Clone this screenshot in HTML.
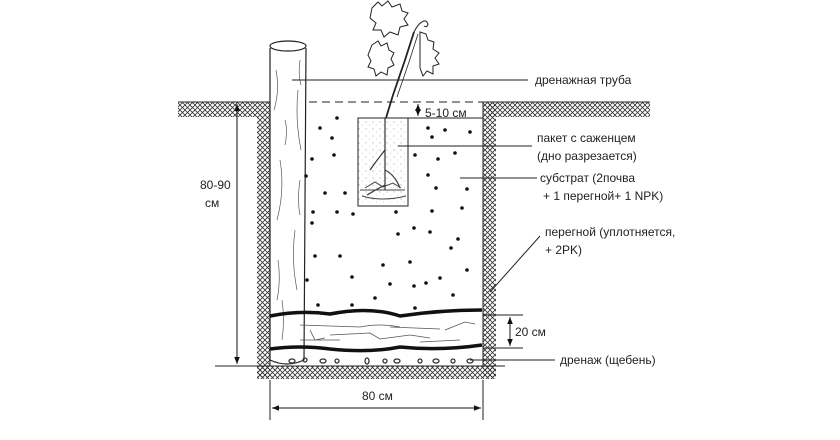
<!DOCTYPE html>
<html><head><meta charset="utf-8"><style>
html,body{margin:0;padding:0;background:#fff;}
svg{display:block;}
text{font-family:"Liberation Sans",sans-serif;font-size:12px;fill:#222;}
</style></head><body>
<svg width="840" height="440" viewBox="0 0 840 440" xmlns="http://www.w3.org/2000/svg">
<defs>
<pattern id="h" width="5" height="5" patternUnits="userSpaceOnUse">
<path d="M0,0 L5,5 M5,0 L0,5" stroke="#333" stroke-width="0.8"/>
</pattern>
<pattern id="s" width="7" height="7" patternUnits="userSpaceOnUse">
<circle cx="2" cy="3" r="0.5" fill="#777"/><circle cx="5.5" cy="6" r="0.4" fill="#999"/>
</pattern>
<marker id="a" viewBox="0 0 10 10" refX="10" refY="5" markerWidth="7" markerHeight="7" orient="auto-start-reverse"><path d="M0,1 L10,5 L0,9 z" fill="#111"/></marker>
</defs>
<rect x="178" y="102" width="80" height="15" fill="url(#h)"/>
<rect x="488" y="102" width="162" height="15" fill="url(#h)"/>
<rect x="257" y="102" width="13" height="276" fill="url(#h)"/>
<rect x="483" y="102" width="13" height="276" fill="url(#h)"/>
<rect x="257" y="366" width="239" height="13" fill="url(#h)"/>
<line x1="178" y1="102" x2="270" y2="102" stroke="#222"/>
<line x1="483" y1="102" x2="650" y2="102" stroke="#222"/>
<line x1="270" y1="102" x2="483" y2="102" stroke="#222" stroke-dasharray="8,5"/>
<line x1="270" y1="102" x2="270" y2="366" stroke="#222"/>
<line x1="483" y1="102" x2="483" y2="366" stroke="#222"/>
<line x1="215" y1="366" x2="505" y2="366" stroke="#222"/>
<!-- pipe -->
<path d="M270,48 L270,360 Q287,368 304,360 L306,48" fill="#fff" stroke="#222" stroke-width="1.2"/>
<ellipse cx="288" cy="46" rx="18" ry="5" fill="#fff" stroke="#222" stroke-width="1.2"/>
<path d="M276,70 q4,20 -2,40 M298,90 q-3,30 3,60 M280,160 q5,30 -3,60 M295,230 q-4,30 2,60 M278,260 q3,20 -1,40 M300,60 q-2,15 1,25 M285,120 q3,10 0,25 M300,180 q-3,20 0,35 M282,300 q3,20 0,40" stroke="#555" stroke-width="0.7" fill="none"/>
<!-- seedling -->
<path d="M414,32 L405,60 L393,95 L386,118" stroke="#222" stroke-width="1.8" fill="none"/>
<path d="M418,34 L409,62 L397,97" stroke="#222" stroke-width="0.8" fill="none"/>
<path d="M385,118 L385,190 M385,150 q-8,10 -15,20 M385,170 q10,5 15,18 M385,185 q-10,5 -18,10" stroke="#333" stroke-width="1.2" fill="none"/>
<g stroke="#222" fill="#fff" stroke-width="1">
<path d="M372,8 l6,-6 l4,4 l6,-5 l4,6 l8,-3 l2,7 l6,2 l-4,6 l4,6 l-8,2 l-2,8 l-8,-3 l-6,5 l-3,-7 l-8,0 l3,-7 l-6,-5z"/>
<path d="M372,45 l6,-4 l3,5 l6,-3 l2,7 l5,3 l-3,6 l3,6 l-6,3 l-1,7 l-6,-3 l-5,4 l-2,-7 l-6,-2 l3,-6 l-3,-6z"/>
<path d="M420,32 l6,2 l2,6 l6,2 l-1,7 l6,4 l-4,5 l4,6 l-6,2 l0,8 l-6,-3 l-4,5 l-3,-8 z"/>
<path d="M414,32 q4,-8 8,-10 q4,-3 6,2 q-1,4 -4,2"/>
</g>
<!-- bag -->
<rect x="358" y="118" width="50" height="88" fill="url(#s)" stroke="#222"/>
<line x1="408" y1="118" x2="483" y2="118" stroke="#222"/>
<path d="M360,190 l45,0 M362,196 q20,6 44,0 M365,188 l10,-6 l8,5 l10,-4 l8,5" stroke="#444" fill="none"/>
<line x1="418" y1="104" x2="418" y2="116" stroke="#111" marker-start="url(#a)" marker-end="url(#a)"/>
<text x="425" y="117">5-10 см</text>
<g fill="#111">
<circle cx="320" cy="128" r="1.8"/><circle cx="337" cy="118" r="1.8"/><circle cx="332" cy="138" r="1.8"/><circle cx="312" cy="159" r="1.8"/><circle cx="334" cy="155" r="1.8"/><circle cx="306" cy="176" r="1.8"/><circle cx="325" cy="193" r="1.8"/><circle cx="345" cy="193" r="1.8"/><circle cx="313" cy="212" r="1.8"/><circle cx="312" cy="223" r="1.8"/><circle cx="337" cy="212" r="1.8"/><circle cx="353" cy="214" r="1.8"/><circle cx="315" cy="256" r="1.8"/><circle cx="340" cy="256" r="1.8"/><circle cx="307" cy="280" r="1.8"/><circle cx="352" cy="277" r="1.8"/><circle cx="318" cy="305" r="1.8"/><circle cx="352" cy="305" r="1.8"/><circle cx="383" cy="265" r="1.8"/><circle cx="398" cy="234" r="1.8"/><circle cx="414" cy="228" r="1.8"/><circle cx="430" cy="232" r="1.8"/><circle cx="410" cy="262" r="1.8"/><circle cx="390" cy="284" r="1.8"/><circle cx="414" cy="286" r="1.8"/><circle cx="440" cy="278" r="1.8"/><circle cx="426" cy="283" r="1.8"/><circle cx="458" cy="239" r="1.8"/><circle cx="451" cy="248" r="1.8"/><circle cx="467" cy="270" r="1.8"/><circle cx="453" cy="295" r="1.8"/><circle cx="415" cy="308" r="1.8"/><circle cx="375" cy="298" r="1.8"/><circle cx="428" cy="128" r="1.8"/><circle cx="445" cy="130" r="1.8"/><circle cx="432" cy="137" r="1.8"/><circle cx="470" cy="132" r="1.8"/><circle cx="415" cy="155" r="1.8"/><circle cx="438" cy="159" r="1.8"/><circle cx="455" cy="153" r="1.8"/><circle cx="428" cy="175" r="1.8"/><circle cx="436" cy="188" r="1.8"/><circle cx="467" cy="189" r="1.8"/><circle cx="432" cy="211" r="1.8"/><circle cx="462" cy="208" r="1.8"/><circle cx="396" cy="212" r="1.8"/>
</g>
<path d="M270,316 q30,-6 60,-2 q40,-8 70,2 q40,-6 82,-6" stroke="#111" stroke-width="3.5" fill="none"/>
<path d="M270,349 q30,-4 60,0 q40,4 70,-2 q40,4 82,-2" stroke="#111" stroke-width="3.5" fill="none"/>
<path d="M300,325 l60,2 q20,-4 40,0 M330,335 l40,-2 l10,6 l30,-4 l20,3 M390,327 l50,2 M300,340 l40,0 M420,342 l40,-2 M310,330 l5,10 l10,-2 M445,330 l20,-8 l10,2" stroke="#555" stroke-width="0.8" fill="none"/>
<g fill="none" stroke="#333" stroke-width="1.3">
<ellipse cx="292" cy="361" rx="3" ry="2"/><ellipse cx="305" cy="360" rx="2" ry="2"/><ellipse cx="323" cy="361" rx="3" ry="2"/><ellipse cx="337" cy="361" rx="2" ry="2"/><ellipse cx="367" cy="361" rx="2" ry="3"/><ellipse cx="385" cy="361" rx="2" ry="2"/><ellipse cx="397" cy="361" rx="3" ry="2"/><ellipse cx="420" cy="361" rx="2" ry="2"/><ellipse cx="436" cy="361" rx="3" ry="2"/><ellipse cx="453" cy="361" rx="2" ry="2"/><ellipse cx="470" cy="361" rx="3" ry="2"/>
</g>
<line x1="237" y1="104" x2="237" y2="364" stroke="#111" marker-start="url(#a)" marker-end="url(#a)"/>
<text x="200" y="189">80-90</text><text x="205" y="207">см</text>
<line x1="270" y1="380" x2="270" y2="420" stroke="#222"/>
<line x1="483" y1="380" x2="483" y2="420" stroke="#222"/>
<line x1="272" y1="408" x2="481" y2="408" stroke="#111" marker-start="url(#a)" marker-end="url(#a)"/>
<text x="362" y="400">80 см</text>
<line x1="483" y1="315" x2="523" y2="315" stroke="#222"/>
<line x1="483" y1="348" x2="523" y2="348" stroke="#222"/>
<line x1="510" y1="317" x2="510" y2="346" stroke="#111" marker-start="url(#a)" marker-end="url(#a)"/>
<text x="515" y="336">20 см</text>
<line x1="292" y1="80" x2="528" y2="80" stroke="#222"/>
<text x="535" y="84">дренажная труба</text>
<line x1="398" y1="146" x2="532" y2="146" stroke="#222"/>
<text x="537" y="142">пакет с саженцем</text>
<text x="537" y="160">(дно разрезается)</text>
<line x1="460" y1="178" x2="537" y2="178" stroke="#222"/>
<text x="540" y="182">субстрат (2почва</text>
<text x="543" y="200">+ 1 перегной+ 1 NPK)</text>
<line x1="540" y1="236" x2="490" y2="292" stroke="#222"/>
<text x="545" y="236">перегной (уплотняется,</text>
<text x="545" y="254">+ 2PK)</text>
<line x1="470" y1="360" x2="555" y2="360" stroke="#222"/>
<text x="560" y="364">дренаж (щебень)</text>
</svg>
</body></html>
